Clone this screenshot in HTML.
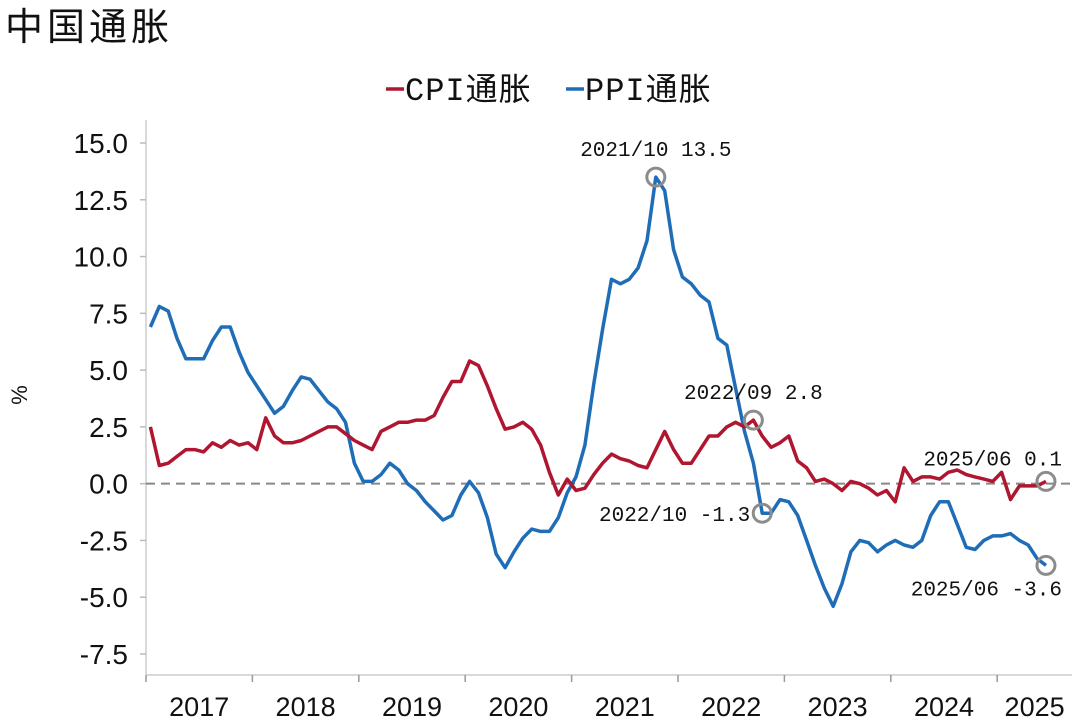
<!DOCTYPE html>
<html><head><meta charset="utf-8">
<style>
html,body{margin:0;padding:0;background:#fff;}
svg{display:block;}
</style></head>
<body>
<svg id="chart" width="1080" height="726" xmlns="http://www.w3.org/2000/svg">
<text x="5" y="40" font-family="'Liberation Sans','Noto Sans CJK SC',sans-serif" font-size="38" letter-spacing="4" fill="#111">中国通胀</text>
<g font-family="'Liberation Mono','Noto Sans CJK SC',monospace" font-size="32" letter-spacing="1" fill="#111">
  <g>
    <line x1="386" y1="89" x2="404" y2="89" stroke="#B0162F" stroke-width="3.5"/>
    <text x="405" y="100">CPI通胀</text>
  </g>
  <g>
    <line x1="566" y1="89" x2="584" y2="89" stroke="#1F6DB7" stroke-width="3.5"/>
    <text x="585" y="100">PPI通胀</text>
  </g>
</g>
<text transform="translate(27,395) rotate(-90)" text-anchor="middle" font-family="'Liberation Sans',sans-serif" font-size="22" fill="#111">%</text>
<g id="axes"></g>
<g id="series"></g>
<g id="annotations"></g>
</svg>
<script>
const yTicks = [15.0, 12.5, 10.0, 7.5, 5.0, 2.5, 0.0, -2.5, -5.0, -7.5];
const years = ["2017","2018","2019","2020","2021","2022","2023","2024","2025"];
const cpi = [2.5,0.8,0.9,1.2,1.5,1.5,1.4,1.8,1.6,1.9,1.7,1.8,
1.5,2.9,2.1,1.8,1.8,1.9,2.1,2.3,2.5,2.5,2.2,1.9,
1.7,1.5,2.3,2.5,2.7,2.7,2.8,2.8,3.0,3.8,4.5,4.5,
5.4,5.2,4.3,3.3,2.4,2.5,2.7,2.4,1.7,0.5,-0.5,0.2,
-0.3,-0.2,0.4,0.9,1.3,1.1,1.0,0.8,0.7,1.5,2.3,1.5,
0.9,0.9,1.5,2.1,2.1,2.5,2.7,2.5,2.8,2.1,1.6,1.8,
2.1,1.0,0.7,0.1,0.2,0.0,-0.3,0.1,0.0,-0.2,-0.5,-0.3,
-0.8,0.7,0.1,0.3,0.3,0.2,0.5,0.6,0.4,0.3,0.2,0.1,
0.5,-0.7,-0.1,-0.1,-0.1,0.1];
const ppi = [6.9,7.8,7.6,6.4,5.5,5.5,5.5,6.3,6.9,6.9,5.8,4.9,
4.3,3.7,3.1,3.4,4.1,4.7,4.6,4.1,3.6,3.3,2.7,0.9,
0.1,0.1,0.4,0.9,0.6,0.0,-0.3,-0.8,-1.2,-1.6,-1.4,-0.5,
0.1,-0.4,-1.5,-3.1,-3.7,-3.0,-2.4,-2.0,-2.1,-2.1,-1.5,-0.4,
0.3,1.7,4.4,6.8,9.0,8.8,9.0,9.5,10.7,13.5,12.9,10.3,
9.1,8.8,8.3,8.0,6.4,6.1,4.2,2.3,0.9,-1.3,-1.3,-0.7,
-0.8,-1.4,-2.5,-3.6,-4.6,-5.4,-4.4,-3.0,-2.5,-2.6,-3.0,-2.7,
-2.5,-2.7,-2.8,-2.5,-1.4,-0.8,-0.8,-1.8,-2.8,-2.9,-2.5,-2.3,
-2.3,-2.2,-2.5,-2.7,-3.3,-3.6];
const annotations = [
  {series:"ppi", idx:57, label:"2021/10 13.5", pos:"above"},
  {series:"cpi", idx:68, label:"2022/09 2.8", pos:"above"},
  {series:"ppi", idx:69, label:"2022/10 -1.3", pos:"left"},
  {series:"cpi", idx:101, label:"2025/06 0.1", pos:"aboveleft"},
  {series:"ppi", idx:101, label:"2025/06 -3.6", pos:"below"}
];

const NS="http://www.w3.org/2000/svg";
const X0=146, MONTH=106.4/12, XR=1072, AXY=675;
const yMax=15, yMin=-7.5, Ytop=143, Ybot=654;
const x = i => X0 + (i+0.5)*MONTH;
const y = v => Ytop + (yMax - v)/(yMax - yMin)*(Ybot-Ytop);
function mk(tag, attrs, parent){const e=document.createElementNS(NS,tag);for(const k in attrs)e.setAttribute(k,attrs[k]);parent.appendChild(e);return e;}
const axes=document.getElementById('axes');
const ya=mk('line',{x1:X0,y1:120,x2:X0,y2:AXY,stroke:'#d9d9d9','stroke-width':2},axes);


const xa=mk('line',{x1:X0,y1:AXY,x2:XR,y2:AXY,stroke:'#d9d9d9','stroke-width':2},axes);


yTicks.forEach(v=>{
  const t=mk('line',{x1:X0-6,y1:y(v),x2:X0,y2:y(v),stroke:'#bbb','stroke-width':1.5},axes);
  
  
  const l=mk('text',{x:128,y:y(v)+10,'text-anchor':'end','font-family':'Liberation Sans,sans-serif','font-size':28,fill:'#111'},axes);
  l.textContent=v.toFixed(1);
  
  
});
years.forEach((yr,k)=>{
  const bx=X0+k*12*MONTH;
  const t=mk('line',{x1:bx,y1:AXY,x2:bx,y2:AXY+7,stroke:'#999','stroke-width':1.5},axes);
  
  
  const cx = k<years.length-1 ? bx+6*MONTH : (bx+XR)/2;
  const l=mk('text',{x:cx,y:AXY+41,'text-anchor':'middle','font-family':'Liberation Sans,sans-serif','font-size':27,fill:'#111'},axes);
  l.textContent=yr;
  
  
});
const zero=mk('line',{x1:X0,y1:y(0),x2:XR,y2:y(0),stroke:'#888','stroke-width':2,'stroke-dasharray':'9,6'},axes);



const ser=document.getElementById('series');
function line(data,color,name){
  const d=data.map((v,i)=>(i?'L':'M')+x(i).toFixed(1)+','+y(v).toFixed(1)).join(' ');
  const p=mk('path',{d:d,fill:'none',stroke:color,'stroke-width':3.5,'stroke-linejoin':'round'},ser);
  
  
}
line(ppi,'#1F6DB7','ppi-line');
line(cpi,'#B0162F','cpi-line');

const ann=document.getElementById('annotations');
annotations.forEach(a=>{
  const v=(a.series==='cpi'?cpi:ppi)[a.idx];
  const cx=x(a.idx), cy=y(v);
  const c=mk('circle',{cx:cx,cy:cy,r:9,fill:'none',stroke:'#8c8c8c','stroke-width':3},ann);
  
  
  let tx,ty,anchor;
  if(a.pos==='above'){tx=cx;ty=cy-21;anchor='middle';}
  else if(a.pos==='left'){tx=cx-12;ty=cy+8;anchor='end';}
  else if(a.pos==='aboveleft'){tx=cx+16;ty=cy-16;anchor='end';}
  else {tx=cx+16;ty=cy+30;anchor='end';}
  const t=mk('text',{x:tx,y:ty,'text-anchor':anchor,'font-family':'Liberation Mono,monospace','font-size':21,fill:'#111'},ann);
  t.textContent=a.label;
  
  
});
</script>
</body></html>
